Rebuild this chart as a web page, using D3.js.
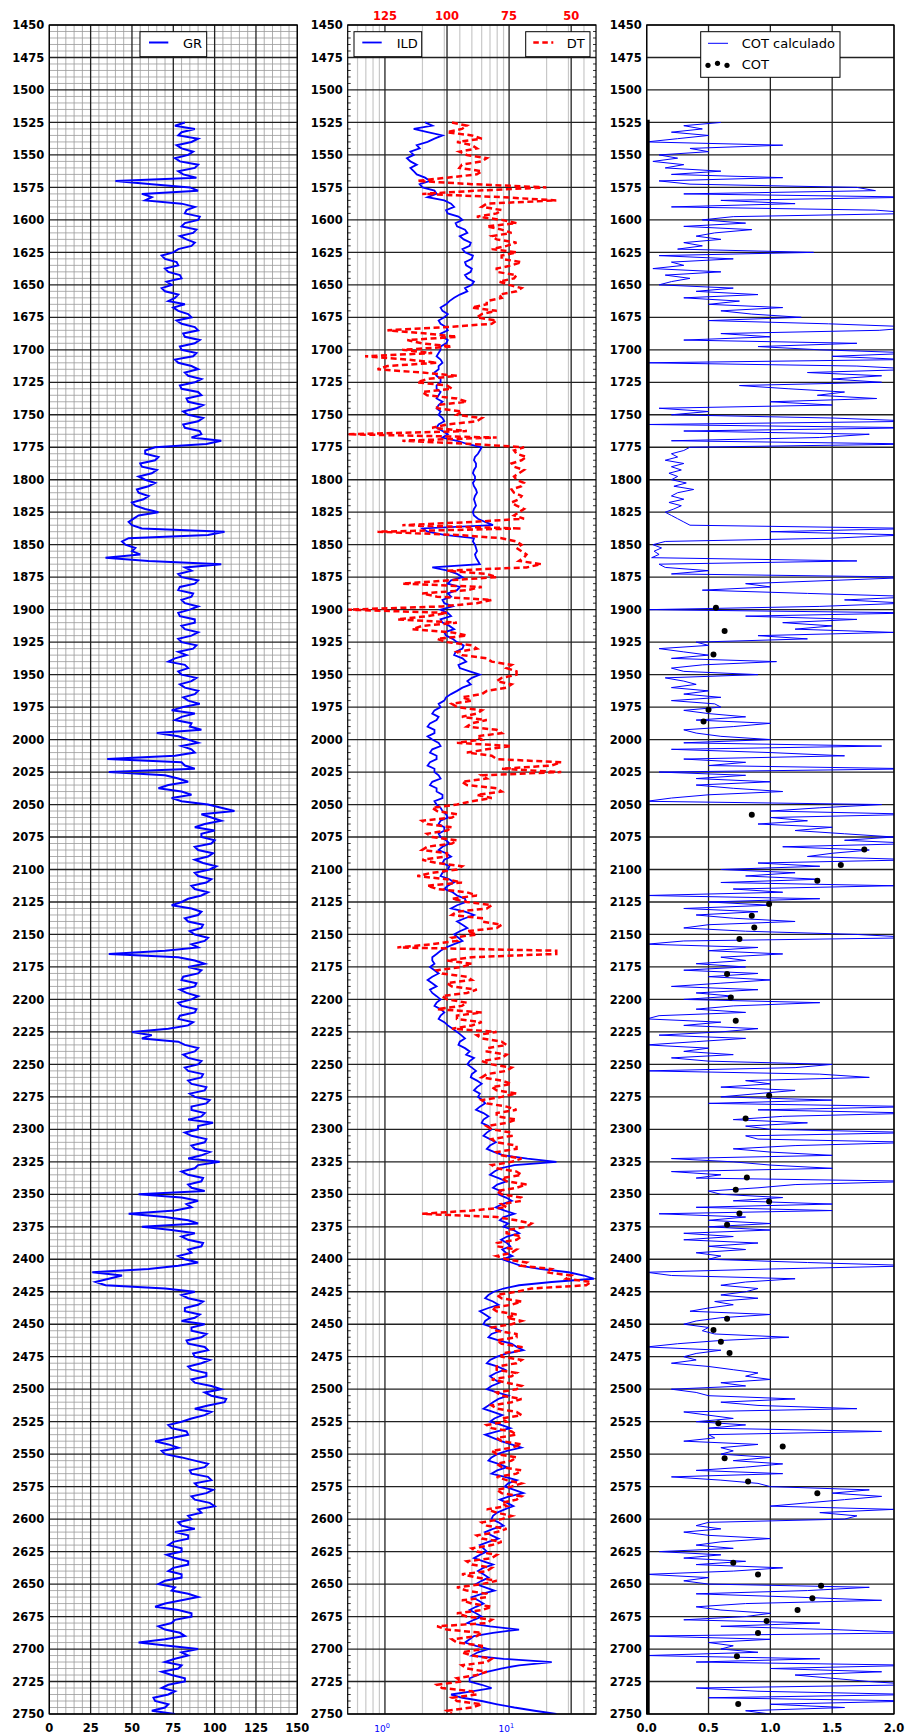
<!DOCTYPE html>
<html>
<head>
<meta charset="utf-8">
<title>Perfiles</title>
<style>
body { margin: 0; background: #fff; }
text { font-family: "DejaVu Sans", sans-serif; }
</style>
</head>
<body>
<script src="https://d3js.org/d3.v7.min.js"></script>
<script>

// first sampled depth and sampling step (all curves)
var depthTop = 1525;
var sampleStep = 2.5;

// GR, one row per 25 m
var grValues = [
  82, 76, 88, 80, 78, 90, 86, 77, 80, 87,
  84, 76, 79, 90, 88, 78, 81, 89, 40, 62,
  85, 90, 56, 62, 58, 80, 88, 83, 82, 91,
  90, 82, 80, 89, 87, 79, 83, 88, 86, 78,
  75, 68, 70, 77, 78, 70, 72, 79, 80, 71,
  74, 68, 70, 78, 76, 72, 82, 75, 78, 84,
  86, 77, 80, 88, 90, 81, 82, 91, 88, 79,
  80, 89, 87, 76, 78, 86, 90, 82, 84, 92,
  88, 79, 80, 90, 92, 83, 84, 93, 89, 81,
  84, 93, 90, 81, 82, 91, 92, 86, 104, 95,
  64, 58, 58, 66, 64, 55, 56, 65, 62, 54,
  58, 64, 60, 53, 54, 60, 57, 50, 52, 58,
  66, 54, 51, 48, 50, 56, 106, 96, 48, 44,
  46, 52, 50, 55, 34, 60, 104, 82, 86, 78,
  80, 90, 88, 79, 78, 87, 86, 80, 82, 90,
  85, 78, 79, 88, 88, 80, 82, 90, 86, 78,
  80, 89, 87, 78, 83, 76, 72, 82, 84, 78,
  80, 89, 86, 79, 82, 90, 88, 81, 84, 91,
  81, 74, 88, 80, 76, 86, 85, 92, 65, 78,
  84, 90, 80, 86, 88, 76, 35, 80, 82, 88,
  36, 70, 78, 84, 72, 66, 80, 86, 74, 80,
  96, 104, 112, 92, 98, 104, 94, 88, 100, 92,
  92, 100, 98, 88, 90, 99, 96, 88, 93, 101,
  97, 88, 90, 98, 95, 86, 88, 96, 92, 84,
  80, 74, 86, 92, 90, 82, 84, 93, 92, 85,
  88, 96, 94, 86, 90, 70, 36, 78, 88, 94,
  84, 92, 90, 81, 80, 89, 88, 79, 83, 90,
  86, 78, 80, 89, 88, 79, 78, 87, 84, 72,
  50, 62, 56, 78, 82, 90, 88, 81, 84, 92,
  90, 82, 84, 93, 92, 84, 86, 95, 94, 85,
  88, 97, 95, 86, 86, 94, 92, 84, 99, 90,
  90, 82, 86, 95, 94, 86, 88, 97, 92, 84,
  103, 90, 88, 80, 84, 93, 92, 84, 86, 94,
  54, 80, 90, 83, 86, 76, 48, 70, 84, 90,
  56, 74, 88, 80, 84, 93, 92, 84, 86, 78,
  82, 90, 78, 60, 26, 44, 36, 28, 34, 70,
  88, 80, 84, 93, 90, 82, 82, 91, 88, 80,
  94, 86, 86, 95, 92, 83, 84, 94, 96, 87,
  88, 97, 92, 84, 86, 95, 95, 86, 88, 98,
  104, 94, 98, 107, 106, 96, 88, 98, 94, 86,
  80, 72, 74, 83, 84, 74, 64, 72, 78, 68,
  70, 80, 88, 96, 94, 85, 86, 96, 98, 88,
  90, 99, 95, 86, 88, 97, 100, 90, 92, 84,
  86, 78, 80, 88, 76, 84, 84, 75, 72, 80,
  80, 71, 76, 84, 84, 75, 72, 80, 80, 70,
  66, 76, 74, 84, 90, 80, 70, 64, 78, 86,
  86, 76, 74, 66, 70, 79, 82, 70, 54, 72,
  90, 80, 84, 76, 70, 80, 78, 68, 74, 82,
  82, 72, 68, 76, 72, 63, 64, 72, 70, 62,
  76
];

// ILD (ohm.m)
var ildValues = [
  2.1, 2.4, 1.7, 2.2, 2.9, 2.5, 2.2, 1.8, 1.9, 1.6,
  1.7, 1.5, 1.6, 1.8, 1.6, 1.7, 1.8, 2.1, 2.3, 1.9,
  2.0, 2.5, 2.6, 2.2, 3.0, 3.4, 3.6, 3.1, 3.2, 3.9,
  4.2, 3.7, 3.8, 4.4, 4.6, 4.0, 4.3, 4.9, 4.8, 4.2,
  4.4, 5.1, 5.0, 4.4, 4.5, 5.0, 4.9, 4.4, 4.6, 5.2,
  5.0, 4.4, 4.6, 4.0, 3.6, 3.3, 3.1, 2.8, 2.9, 3.2,
  3.0, 2.7, 2.8, 3.1, 3.2, 2.8, 2.9, 3.2, 3.1, 2.8,
  2.8, 2.7, 2.6, 2.8, 2.9, 2.7, 2.7, 2.5, 2.6, 2.8,
  2.8, 2.6, 2.6, 2.8, 2.7, 2.6, 2.9, 2.7, 2.6, 2.8,
  2.7, 2.9, 3.0, 2.7, 2.6, 2.9, 3.2, 2.9, 3.8, 4.6,
  6.0, 5.8, 5.6, 5.3, 5.2, 5.4, 5.4, 5.2, 5.1, 5.3,
  5.3, 5.1, 5.2, 5.4, 5.5, 5.3, 5.2, 5.3, 5.4, 5.2,
  5.1, 5.2, 5.6, 6.4, 7.4, 2.0, 2.2, 3.0, 5.2, 5.1,
  5.3, 5.4, 5.5, 5.3, 5.4, 5.6, 5.8, 2.4, 3.2, 3.8,
  4.2, 3.4, 3.2, 4.0, 3.8, 3.2, 3.4, 2.9, 3.0, 3.5,
  2.8, 3.2, 3.4, 2.8, 2.9, 3.3, 3.6, 3.0, 3.1, 3.5,
  3.8, 4.3, 4.2, 3.7, 3.6, 4.2, 4.5, 3.9, 4.0, 4.8,
  5.8, 5.0, 4.6, 4.9, 4.2, 3.8, 3.4, 3.1, 3.0, 2.7,
  2.8, 2.5, 2.4, 2.7, 2.6, 2.3, 2.2, 2.5, 2.5, 2.2,
  2.4, 2.7, 2.8, 2.4, 2.3, 2.6, 2.6, 2.3, 2.2, 2.5,
  2.5, 2.7, 2.8, 2.4, 2.3, 2.6, 2.6, 2.9, 2.9, 2.5,
  2.6, 2.8, 2.9, 3.1, 3.2, 2.8, 2.7, 3.0, 3.0, 2.7,
  2.8, 3.1, 3.3, 2.9, 2.7, 3.1, 3.4, 3.0, 2.9, 3.3,
  3.2, 2.9, 2.8, 3.3, 3.6, 3.2, 3.0, 3.5, 3.8, 4.4,
  4.5, 3.8, 3.4, 4.4, 5.2, 4.4, 3.8, 4.2, 4.6, 4.0,
  3.6, 3.9, 4.2, 3.6, 3.1, 2.8, 2.6, 2.4, 2.4, 2.5,
  2.3, 2.5, 2.7, 2.4, 2.2, 2.4, 2.6, 2.3, 2.4, 2.6,
  2.8, 2.6, 2.5, 2.8, 3.0, 2.8, 2.7, 3.0, 3.2, 3.5,
  3.8, 4.1, 4.4, 4.0, 3.9, 4.4, 4.8, 4.5, 5.2, 4.8,
  4.6, 5.0, 5.4, 5.0, 4.9, 5.5, 6.0, 5.5, 5.2, 5.8,
  5.6, 6.1, 6.4, 5.8, 5.4, 6.2, 6.8, 6.2, 6.0, 6.8,
  7.2, 6.6, 6.2, 7.0, 7.8, 7.0, 6.6, 7.6, 9.0, 14,
  24, 11, 8.5, 7.6, 7.0, 8.2, 9.5, 8.0, 7.4, 8.6,
  8.2, 9.4, 10.5, 8.8, 7.8, 9.2, 11, 9.0, 8.4, 9.8,
  9.0, 10.8, 12, 9.6, 8.6, 9.6, 10.2, 8.8, 9.4, 10.6,
  8.8, 10.4, 12.5, 18, 30, 40, 48, 22, 12, 9.0,
  7.5, 6.8, 6.4, 7.4, 8.2, 6.8, 5.8, 6.4, 7.0, 6.4,
  6.2, 7.4, 8.5, 7.2, 6.8, 8.2, 10.5, 11.5, 13, 9.6,
  8.0, 7.0, 6.6, 8.0, 9.2, 7.8, 7.0, 7.6, 8.4, 7.2,
  6.6, 8.0, 9.8, 8.2, 7.4, 6.8, 6.2, 7.4, 8.8, 7.6,
  7.0, 8.6, 10.2, 8.0, 6.4, 7.4, 8.6, 10.4, 12.5, 9.6,
  8.0, 7.2, 6.8, 8.2, 9.6, 8.0, 7.2, 9.2, 11.5, 9.8,
  9.2, 11, 13, 10, 8.4, 9.6, 10.8, 9.2, 8.0, 7.4,
  7.2, 8.2, 9.0, 7.4, 6.4, 7.2, 8.2, 6.8, 5.8, 6.2,
  6.6, 5.8, 5.2, 6.2, 7.4, 6.2, 5.6, 6.2, 6.8, 6.0,
  5.4, 6.4, 7.6, 6.0, 5.0, 5.6, 6.2, 5.4, 4.8, 5.4,
  6.0, 5.2, 4.6, 7.0, 12, 7.4, 5.2, 4.8, 4.4, 5.4,
  6.8, 5.6, 5.0, 9.0, 22, 12, 8.6, 6.6, 5.6, 4.8,
  4.8, 6.0, 7.2, 5.0, 3.4, 4.2, 6.0, 8.0, 11, 16,
  24
];

// DT (us/ft)
var dtValues = [
  98, 92, 94, 100, 90, 86, 96, 90, 88, 95,
  92, 84, 86, 94, 95, 86, 88, 100, 112, 90,
  60, 88, 110, 78, 56, 84, 86, 78, 80, 88,
  78, 72, 84, 78, 74, 82, 80, 72, 76, 82,
  72, 78, 78, 70, 74, 80, 80, 72, 73, 79,
  75, 70, 72, 79, 78, 84, 84, 90, 80, 86,
  88, 80, 82, 100, 124, 108, 96, 116, 110, 98,
  118, 106, 133, 116, 104, 124, 128, 110, 96, 108,
  112, 100, 98, 110, 108, 96, 92, 104, 104, 94,
  96, 86, 88, 100, 106, 92, 140, 80, 118, 90,
  69, 73, 72, 68, 70, 74, 73, 69, 71, 73,
  72, 69, 70, 74, 73, 70, 71, 74, 72, 69,
  71, 73, 69, 90, 118, 70, 128, 96, 78, 72,
  70, 72, 70, 68, 69, 71, 62, 68, 100, 84,
  80, 100, 118, 86, 92, 110, 104, 82, 88, 102,
  140, 100, 108, 120, 96, 110, 114, 98, 92, 104,
  100, 90, 88, 96, 94, 84, 82, 74, 76, 72,
  72, 78, 80, 74, 76, 84, 86, 94, 90, 98,
  96, 86, 88, 94, 84, 90, 92, 80, 78, 88,
  86, 96, 74, 84, 92, 82, 80, 54, 58, 78,
  54, 86, 84, 94, 92, 80, 78, 88, 82, 90,
  96, 106, 104, 96, 98, 110, 108, 98, 100, 108,
  106, 96, 98, 108, 110, 100, 100, 110, 104, 94,
  96, 106, 112, 100, 94, 108, 104, 92, 88, 98,
  92, 82, 84, 96, 98, 86, 86, 78, 80, 92,
  88, 98, 96, 106, 120, 56, 56, 90, 100, 90,
  94, 104, 102, 92, 90, 100, 98, 88, 92, 102,
  100, 92, 94, 104, 86, 96, 96, 86, 90, 98,
  80, 88, 86, 78, 76, 84, 84, 76, 78, 86,
  82, 74, 76, 84, 86, 78, 74, 82, 80, 72,
  78, 86, 84, 76, 72, 80, 80, 72, 76, 84,
  82, 74, 74, 82, 80, 72, 72, 80, 78, 70,
  74, 82, 80, 72, 70, 78, 76, 68, 72, 80,
  78, 70, 70, 78, 76, 90, 110, 80, 72, 66,
  68, 76, 76, 70, 72, 80, 80, 72, 74, 80,
  76, 68, 70, 58, 60, 50, 52, 42, 44, 66,
  72, 80, 78, 70, 74, 82, 80, 72, 76, 70,
  74, 82, 80, 72, 72, 80, 78, 70, 70, 78,
  78, 70, 72, 80, 80, 72, 74, 82, 76, 70,
  72, 80, 78, 70, 74, 82, 80, 72, 70, 78,
  76, 84, 82, 74, 72, 80, 78, 70, 74, 82,
  80, 72, 74, 80, 78, 70, 72, 80, 76, 70,
  74, 80, 78, 70, 72, 78, 76, 84, 80, 74,
  78, 86, 84, 76, 80, 88, 86, 78, 82, 90,
  88, 80, 82, 92, 90, 82, 84, 94, 88, 80,
  86, 96, 92, 84, 84, 94, 90, 82, 86, 96,
  92, 82, 84, 104, 100, 86, 88, 98, 96, 86,
  86, 94, 90, 82, 84, 94, 92, 84, 88, 96,
  94, 104, 102, 90, 88, 98, 96, 86, 90, 100,
  98
];

// COT calculado (%)
var cotCalc = [
  0.6, 0.3, 0.45, 0.2, 0.5, 0.25, 0.0, 1.1, 0.35, 0.5,
  0.1, 0.25, 0.05, 0.3, 0.15, 0.6, 0.2, 1.1, 0.1, 0.35,
  1.7, 1.85, 0.3, 2.2, 0.6, 1.2, 0.2, 1.85, 2.2, 0.7,
  0.45, 0.8, 0.3, 0.85, 0.55, 0.4, 0.6, 0.3, 0.45, 0.25,
  1.35, 0.1, 0.7, 0.2, 0.3, 0.05, 0.6, 0.15, 0.35, 0.2,
  0.1, 0.7, 0.4, 0.9, 0.3, 0.75, 0.5, 1.1, 0.6, 0.85,
  1.25, 0.5, 1.47, 2.2, 1.88, 0.6, 1.0, 0.3, 1.7, 0.9,
  1.4, 2.2, 1.5, 2.1, 0.0, 1.7, 2.2, 1.3, 1.9, 1.5,
  1.9, 0.75, 1.15, 1.6, 1.38, 1.86, 1.0, 1.5, 0.1, 0.5,
  0.2, 1.5, 2.2, 0.0, 2.2, 0.3, 1.8, 1.4, 0.2, 2.2,
  0.35, 0.3, 0.2, 0.25, 0.15, 0.3, 0.2, 0.28, 0.18, 0.25,
  0.2, 0.32, 0.22, 0.38, 0.25, 0.2, 0.3, 0.18, 0.28, 0.22,
  0.15, 0.2, 0.25, 0.3, 0.35, 2.2, 1.0, 2.1, 1.5, 0.15,
  0.05, 0.12, 0.06, 0.1, 0.04, 1.7, 0.1, 0.15, 0.5, 0.2,
  2.2, 1.5, 0.8, 1.0, 0.45, 1.3, 2.2, 1.6, 2.1, 1.4,
  0.02, 2.2, 0.8, 1.7, 1.1, 1.5, 1.2, 2.0, 0.9, 1.3,
  0.4, 0.5, 0.1, 0.3, 0.5, 0.2, 1.05, 0.45, 0.2, 0.3,
  0.9, 0.15, 0.3, 0.4, 0.2, 0.5, 0.3, 0.6, 0.2, 0.55,
  0.6, 0.3, 0.5, 0.8, 0.4, 1.0, 0.7, 0.3, 0.4, 0.6,
  1.0, 0.3, 1.9, 0.2, 1.0, 1.6, 0.3, 0.8, 0.5, 2.2,
  0.1, 0.8, 0.4, 1.0, 0.4, 0.7, 1.1, 0.5, 0.2, 0.0,
  1.9, 1.4, 1.0, 2.2, 1.0, 1.3, 0.9, 1.5, 1.2, 1.6,
  2.0, 1.6, 2.2, 1.1, 1.8, 1.5, 1.3, 2.2, 0.9, 1.4,
  0.6, 1.2, 0.8, 1.4, 0.6, 2.0, 0.7, 1.1, 0.0, 1.4,
  0.5, 1.0, 0.3, 0.9, 0.4, 0.7, 1.2, 0.5, 0.3, 0.8,
  1.7, 2.2, 0.3, 0.0, 0.9, 0.5, 1.1, 0.6, 0.8, 0.4,
  0.8, 0.3, 0.9, 0.5, 1.0, 0.6, 0.2, 0.9, 0.4, 0.7,
  0.3, 1.4, 0.7, 0.4, 0.8, 0.1, 0.0, 0.6, 0.3, 0.9,
  0.6, 0.1, 0.8, 0.4, 0.0, 0.5, 0.3, 0.7, 0.2, 0.5,
  1.5, 1.2, 0.0, 1.4, 1.8, 0.8, 1.0, 0.6, 1.2, 0.9,
  0.6, 1.5, 0.5, 2.2, 0.9, 2.2, 1.1, 0.7, 1.3, 0.8,
  1.0, 2.2, 0.8, 0.9, 2.2, 1.2, 0.7, 1.0, 1.5, 0.2,
  0.7, 1.0, 1.5, 0.2, 0.6, 0.4, 2.2, 1.2, 0.9, 0.5,
  0.6, 1.1, 0.7, 1.5, 0.4, 1.5, 0.1, 0.8, 0.5, 1.0,
  0.5, 1.0, 0.3, 0.7, 0.3, 0.9, 0.5, 0.8, 0.4, 0.6,
  0.5, 1.3, 2.2, 1.0, 0.0, 0.2, 1.2, 0.8, 0.6, 0.9,
  0.8, 0.6, 0.9, 0.55, 0.7, 0.5, 0.35, 1.0, 0.6, 0.4,
  0.3, 0.5, 0.45, 0.55, 1.15, 0.6, 0.25, 0.0, 0.6, 0.4,
  0.3, 0.4, 0.2, 0.5, 0.7, 0.9, 0.8, 1.0, 0.6, 0.8,
  0.2, 0.4, 0.5, 1.2, 0.6, 0.9, 1.7, 0.3, 0.5, 0.7,
  0.4, 0.8, 0.5, 1.9, 0.5, 0.55, 0.3, 0.9, 0.6, 0.7,
  0.6, 1.0, 0.7, 1.1, 0.8, 0.4, 1.1, 0.2, 0.6, 0.9,
  1.0, 1.8, 1.5, 1.9, 1.6, 1.3, 1.0, 2.0, 1.4, 1.7,
  1.6, 0.5, 0.4, 0.6, 0.3, 0.5, 1.0, 0.6, 0.4, 0.7,
  0.1, 0.6, 0.3, 0.8, 0.4, 1.1, 0.7, 0.0, 0.5, 0.3,
  0.5, 1.8, 1.3, 0.4, 1.2, 1.9, 0.8, 0.4, 0.6, 1.0,
  0.8, 0.3, 1.4, 0.6, 1.5, 2.2, 0.0, 1.0, 0.5, 0.7,
  0.6, 0.9, 0.0, 1.4, 0.4, 2.2, 1.0, 1.9, 1.2, 1.5,
  1.8, 2.2, 0.4, 0.9, 2.2, 0.5, 2.2, 1.0, 1.6, 0.8,
  1.0
];

// COT measured on samples
var cotDepth = [1898.6, 1916.5, 1934.6, 1977, 1986, 2057.8, 2084.7, 2096.6, 2108.6, 2126.5,
  2135.6, 2144.7, 2153.5, 2180.4, 2198.5, 2216.4, 2273.9, 2291.7, 2337, 2346.5,
  2355.5, 2364.7, 2373.4, 2445.7, 2454.4, 2463.4, 2472.1, 2526.2, 2544.1, 2553.1,
  2571, 2580, 2633.6, 2642.6, 2651.3, 2661, 2670, 2678.4, 2687.7, 2705.6, 2742.3];
var cotValue = [0.56, 0.63, 0.54, 0.5, 0.46, 0.85, 1.76, 1.57, 1.38, 0.99,
  0.85, 0.87, 0.75, 0.65, 0.68, 0.72, 0.99, 0.8, 0.81, 0.72,
  0.99, 0.75, 0.65, 0.65, 0.54, 0.6, 0.67, 0.58, 1.1, 0.63,
  0.82, 1.38, 0.7, 0.9, 1.41, 1.34, 1.22, 0.97, 0.9, 0.73, 0.74];

// tick labels
var depthTicks = d3.range(1450, 2751, 25);
var grTicks = [0, 25, 50, 75, 100, 125, 150];
var dtTicks = [125, 100, 75, 50];
var ildTicks = [1, 10];
var cotTicks = [0, 0.5, 1, 1.5, 2];
var ildMinor = [0.6, 0.7, 0.8, 0.9, 2, 3, 4, 5, 6, 7, 8, 9, 20, 30, 40];

var svg = d3.select("body").append("svg")
    .attr("width", 906)
    .attr("height", 1735);

var y = d3.scaleLinear().domain([1450, 2750]).range([25, 1714]);
var xGR = d3.scaleLinear().domain([0, 150]).range([49.3, 297.3]);
var xILD = d3.scaleLog().domain([0.5, 50]).range([347.7, 596]);
var xDT = d3.scaleLinear().domain([140, 40]).range([347.7, 596]);
var xCOT = d3.scaleLinear().domain([0, 2]).range([646.7, 894]);

var yTop = y(1450), yBot = y(2750);

function series(values) {
  return values.map(function(v, i) { return {d: depthTop + i * sampleStep, v: v}; });
}

function clipFor(id, x) {
  var r = x.range();
  svg.append("clipPath").attr("id", id).append("rect")
      .attr("x", r[0]).attr("y", yTop)
      .attr("width", r[1] - r[0]).attr("height", yBot - yTop);
}

function vLines(x, values, color, w) {
  svg.append("g").selectAll("line").data(values).enter().append("line")
      .attr("x1", function(d) { return x(d); })
      .attr("x2", function(d) { return x(d); })
      .attr("y1", yTop).attr("y2", yBot)
      .attr("stroke", color).attr("stroke-width", w);
}

function hLines(x, values, color, w) {
  var r = x.range();
  svg.append("g").selectAll("line").data(values).enter().append("line")
      .attr("x1", r[0]).attr("x2", r[1])
      .attr("y1", function(d) { return y(d); })
      .attr("y2", function(d) { return y(d); })
      .attr("stroke", color).attr("stroke-width", w);
}

function depthLabels(x) {
  var x0 = x.range()[0];
  svg.append("g").selectAll("text").data(depthTicks).enter().append("text")
      .attr("x", x0 - 5)
      .attr("y", function(d) { return y(d); })
      .attr("dy", "0.36em")
      .attr("text-anchor", "end")
      .attr("font-size", "11.5px")
      .attr("font-weight", "bold")
      .text(function(d) { return d; });
}

function frame(x) {
  var r = x.range();
  svg.append("rect")
      .attr("x", r[0]).attr("y", yTop)
      .attr("width", r[1] - r[0]).attr("height", yBot - yTop)
      .attr("fill", "none").attr("stroke", "#000").attr("stroke-width", 1.2);
}

function legendBox(x0, y0, w, h) {
  svg.append("rect")
      .attr("x", x0).attr("y", y0).attr("width", w).attr("height", h)
      .attr("fill", "#fff").attr("stroke", "#000").attr("stroke-width", 1);
}

var minorDepth = d3.range(1450, 2751, 5).filter(function(d) { return d % 25 != 0; });

// ---------- panel 1 : GR ----------
clipFor("clipGR", xGR);
vLines(xGR, d3.range(0, 151, 5).filter(function(d) { return d % 25 != 0; }), "#9a9a9a", 0.8);
hLines(xGR, minorDepth, "#9a9a9a", 0.8);
vLines(xGR, grTicks, "#222", 1.3);
hLines(xGR, depthTicks, "#222", 1.3);

svg.append("path")
    .datum(series(grValues))
    .attr("clip-path", "url(#clipGR)")
    .attr("fill", "none")
    .attr("stroke", "#0000ff")
    .attr("stroke-width", 2)
    .attr("d", d3.line().x(function(d) { return xGR(d.v); }).y(function(d) { return y(d.d); }));

frame(xGR);
depthLabels(xGR);
svg.append("g").selectAll("text").data(grTicks).enter().append("text")
    .attr("x", function(d) { return xGR(d); })
    .attr("y", yBot + 18)
    .attr("text-anchor", "middle")
    .attr("font-size", "11.5px")
    .attr("font-weight", "bold")
    .text(function(d) { return d; });

legendBox(140, 31.7, 66.7, 25);
svg.append("line").attr("x1", 149).attr("x2", 168.3).attr("y1", 42.5).attr("y2", 42.5)
    .attr("stroke", "#0000ff").attr("stroke-width", 2);
svg.append("text").attr("x", 183).attr("y", 47.5).attr("font-size", "13px").text("GR");

// ---------- panel 2 : ILD / DT ----------
clipFor("clipRes", xILD);
vLines(xILD, ildMinor, "#c8c8c8", 1.2);
vLines(xDT, dtTicks, "#222", 1.3);
hLines(xILD, depthTicks, "#222", 1.3);

// inward minor ticks on the depth axis
svg.append("g").selectAll("line").data(minorDepth).enter().append("line")
    .attr("x1", xILD.range()[0]).attr("x2", xILD.range()[0] + 3)
    .attr("y1", function(d) { return y(d); }).attr("y2", function(d) { return y(d); })
    .attr("stroke", "#000").attr("stroke-width", 0.8);
svg.append("g").selectAll("line").data(minorDepth).enter().append("line")
    .attr("x1", xILD.range()[1] - 3).attr("x2", xILD.range()[1])
    .attr("y1", function(d) { return y(d); }).attr("y2", function(d) { return y(d); })
    .attr("stroke", "#000").attr("stroke-width", 0.8);

svg.append("path")
    .datum(series(ildValues))
    .attr("clip-path", "url(#clipRes)")
    .attr("fill", "none")
    .attr("stroke", "#0000ff")
    .attr("stroke-width", 1.8)
    .attr("d", d3.line().x(function(d) { return xILD(d.v); }).y(function(d) { return y(d.d); }));

svg.append("path")
    .datum(series(dtValues))
    .attr("clip-path", "url(#clipRes)")
    .attr("fill", "none")
    .attr("stroke", "#ff0000")
    .attr("stroke-width", 2.5)
    .attr("stroke-dasharray", "6,3.5")
    .attr("d", d3.line().x(function(d) { return xDT(d.v); }).y(function(d) { return y(d.d); }));

frame(xILD);
depthLabels(xILD);

svg.append("g").selectAll("text").data(dtTicks).enter().append("text")
    .attr("x", function(d) { return xDT(d); })
    .attr("y", 19.5)
    .attr("text-anchor", "middle")
    .attr("font-size", "11.5px")
    .attr("font-weight", "bold")
    .attr("fill", "#ff0000")
    .text(function(d) { return d; });

var ildLab = svg.append("g").selectAll("text").data(ildTicks).enter().append("text")
    .attr("x", function(d) { return xILD(d) - 3; })
    .attr("y", yBot + 18)
    .attr("text-anchor", "middle")
    .attr("font-size", "9px")
    .attr("fill", "#0000ff");
ildLab.append("tspan").text("10");
ildLab.append("tspan").attr("dy", -4).attr("font-size", "6.5px")
    .text(function(d) { return Math.round(Math.log10(d)); });

legendBox(354, 31.7, 67.7, 25);
svg.append("line").attr("x1", 362.3).attr("x2", 381.7).attr("y1", 42.5).attr("y2", 42.5)
    .attr("stroke", "#0000ff").attr("stroke-width", 1.8);
svg.append("text").attr("x", 396.7).attr("y", 47.5).attr("font-size", "13px").text("ILD");

legendBox(525.7, 31.7, 64.3, 25);
svg.append("line").attr("x1", 533.3).attr("x2", 553.3).attr("y1", 42.5).attr("y2", 42.5)
    .attr("stroke", "#ff0000").attr("stroke-width", 2.5).attr("stroke-dasharray", "5.5,3.5");
svg.append("text").attr("x", 566.7).attr("y", 47.5).attr("font-size", "13px").text("DT");

// ---------- panel 3 : COT ----------
clipFor("clipCOT", xCOT);
vLines(xCOT, cotTicks, "#222", 1.3);
hLines(xCOT, depthTicks, "#222", 1.3);

svg.append("path")
    .datum(series(cotCalc))
    .attr("clip-path", "url(#clipCOT)")
    .attr("fill", "none")
    .attr("stroke", "#0000ff")
    .attr("stroke-width", 1)
    .attr("d", d3.line().x(function(d) { return xCOT(d.v); }).y(function(d) { return y(d.d); }));

// zero baseline of the computed track
svg.append("line")
    .attr("x1", xCOT(0) + 1.5).attr("x2", xCOT(0) + 1.5)
    .attr("y1", y(1523)).attr("y2", yBot)
    .attr("stroke", "#000").attr("stroke-width", 3);

svg.append("g").selectAll("circle").data(cotDepth).enter().append("circle")
    .attr("cx", function(d, i) { return xCOT(cotValue[i]); })
    .attr("cy", function(d) { return y(d); })
    .attr("r", 3)
    .attr("fill", "#000");

frame(xCOT);
depthLabels(xCOT);
svg.append("g").selectAll("text").data(cotTicks).enter().append("text")
    .attr("x", function(d) { return xCOT(d); })
    .attr("y", yBot + 18)
    .attr("text-anchor", "middle")
    .attr("font-size", "11.5px")
    .attr("font-weight", "bold")
    .text(function(d) { return d3.format(".1f")(d); });

legendBox(700.7, 31.7, 139.3, 45.6);
svg.append("line").attr("x1", 708).attr("x2", 728).attr("y1", 43.3).attr("y2", 43.3)
    .attr("stroke", "#0000ff").attr("stroke-width", 1);
svg.append("text").attr("x", 741.7).attr("y", 48).attr("font-size", "13px").text("COT calculado");
svg.append("g").selectAll("circle").data([708, 717.5, 727]).enter().append("circle")
    .attr("cx", function(d) { return d; })
    .attr("cy", function(d, i) { return i == 1 ? 63.3 : 65.3; })
    .attr("r", 2.6)
    .attr("fill", "#000");
svg.append("text").attr("x", 741.7).attr("y", 69).attr("font-size", "13px").text("COT");

</script>
</body>
</html>
